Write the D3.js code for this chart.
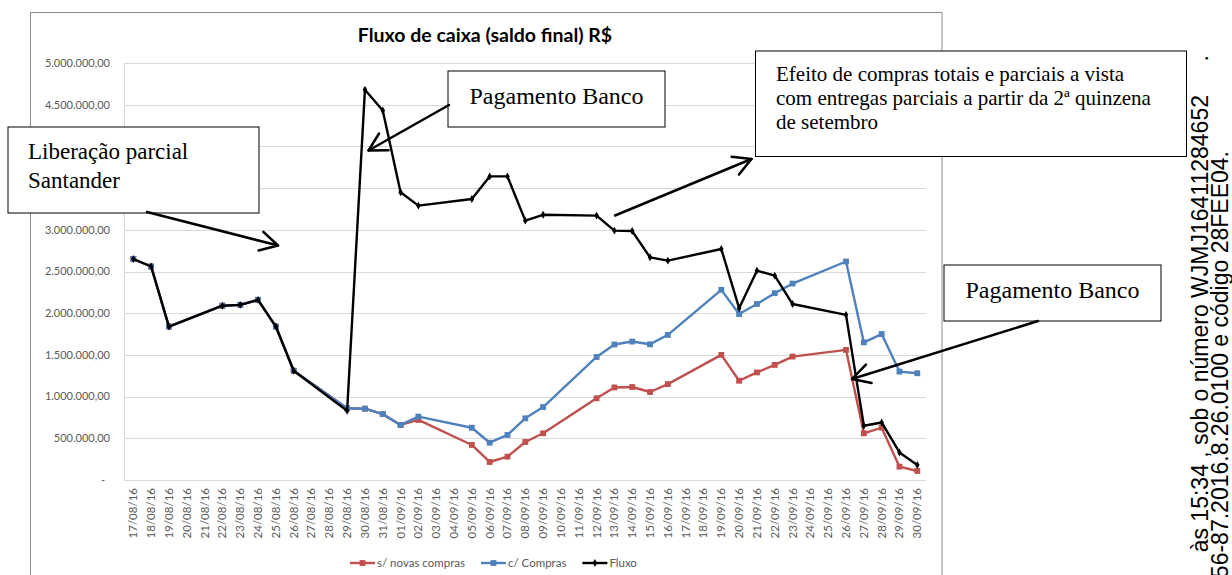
<!DOCTYPE html>
<html>
<head>
<meta charset="utf-8">
<script src="https://cdn.jsdelivr.net/npm/d3@7"></script>
<style>
  body { margin: 0; background: #fff; }
  svg { display: block; }
</style>
</head>
<body>
<div id="chart"></div>
<script>
var categories = [
  "17/08/16","18/08/16","19/08/16","20/08/16","21/08/16","22/08/16","23/08/16","24/08/16",
  "25/08/16","26/08/16","27/08/16","28/08/16","29/08/16","30/08/16","31/08/16",
  "01/09/16","02/09/16","03/09/16","04/09/16","05/09/16","06/09/16","07/09/16","08/09/16",
  "09/09/16","10/09/16","11/09/16","12/09/16","13/09/16","14/09/16","15/09/16","16/09/16",
  "17/09/16","18/09/16","19/09/16","20/09/16","21/09/16","22/09/16","23/09/16","24/09/16",
  "25/09/16","26/09/16","27/09/16","28/09/16","29/09/16","30/09/16"
];

// weekends have no value (null): the line just connects over them
var semNovasCompras = [
  2650000, 2560000, 1840000, null, null, 2090000, 2100000, 2160000,
  1840000, 1310000, null, null, 860000, 855000, 790000,
  660000, 720000, null, null, 420000, 216000, 280000, 456000,
  560000, null, null, 980000, 1110000, 1115000, 1055000, 1150000,
  null, null, 1500000, 1190000, 1290000, 1380000, 1480000, null,
  null, 1560000, 560000, 627000, 160000, 108000
];
var comCompras = [
  2650000, 2560000, 1840000, null, null, 2090000, 2100000, 2160000,
  1840000, 1310000, null, null, 860000, 855000, 790000,
  660000, 760000, null, null, 627000, 447000, 540000, 740000,
  875000, null, null, 1475000, 1625000, 1660000, 1627000, 1740000,
  null, null, 2280000, 1990000, 2110000, 2240000, 2355000, null,
  null, 2620000, 1650000, 1750000, 1300000, 1280000
];
var fluxo = [
  2650000, 2560000, 1840000, null, null, 2090000, 2100000, 2160000,
  1840000, 1310000, null, null, 830000, 4680000, 4430000,
  3450000, 3290000, null, null, 3370000, 3640000, 3640000, 3110000,
  3180000, null, null, 3170000, 2990000, 2985000, 2670000, 2630000,
  null, null, 2770000, 2060000, 2510000, 2450000, 2110000, null,
  null, 1980000, 650000, 690000, 330000, 180000
];

var seriesNames = ["s/ novas compras", "c/ Compras", "Fluxo"];
var yTickValues = [0, 500000, 1000000, 1500000, 2000000, 2500000, 3000000, 3500000, 4000000, 4500000, 5000000];
var chartTitle = "Fluxo de caixa (saldo final) R$";

// text boxes and arrows laid over the chart
var noteBoxes = [
  { x: 8, y: 127, w: 251, h: 86, lines: ["Liberação parcial", "Santander"], size: 23, tx: 28, ty: 159, lh: 28.5, anchor: "start" },
  { x: 448, y: 71, w: 217, h: 56, lines: ["Pagamento Banco"], size: 24, tx: 556.5, ty: 104, lh: 0, anchor: "middle" },
  { x: 755.5, y: 51, w: 431, h: 105.5, lines: ["Efeito de compras totais e parciais a vista", "com entregas parciais a partir da 2ª quinzena", "de setembro"], size: 21, tx: 776, ty: 81, lh: 24.2, anchor: "start" },
  { x: 944, y: 265, w: 217, h: 56, lines: ["Pagamento Banco"], size: 24, tx: 1052.5, ty: 298, lh: 0, anchor: "middle" }
];
var noteArrows = [
  { from: [147, 212], to: [278, 245.5] },
  { from: [449, 105], to: [368.5, 150.5] },
  { from: [615, 215.5], to: [751.5, 159] },
  { from: [1038, 321], to: [852, 379] }
];
var sideLines = [
  { text: "às 15:34 , sob o número WJMJ16411284652", x: 1208, y: 95 },
  { text: ".", x: 1208, y: 55 },
  { text: "756-87.2016.8.26.0100 e código 28FEE04.", x: 1228, y: 151 }
];

var width = 1232;
var height = 575;
var colors = ["#C0504D", "#4F81BD", "#000000"];
var labelFont = "Lato, 'Open Sans', sans-serif";
var serifFont = "'Liberation Serif', 'Times New Roman', serif";

var svg = d3.select("#chart").append("svg")
  .attr("width", width).attr("height", height);

// chart frame
svg.append("rect")
  .attr("x", 30.5).attr("y", 12.5)
  .attr("width", 911.5).attr("height", 600)
  .attr("fill", "#fff").attr("stroke", "#8c8c8c").attr("stroke-width", 1);

var plot = { left: 124.4, right: 926.2, top: 63, bottom: 480 };

var x = d3.scaleBand().domain(categories).range([plot.left, plot.right]).padding(0);
var y = d3.scaleLinear().domain([0, 5000000]).range([plot.bottom, plot.top]);
function cx(c) { return x(c) + x.bandwidth() / 2; }

var br = d3.formatLocale({ decimal: ",", thousands: ".", grouping: [3], currency: ["R$", ""] });
var fmt = br.format(",.2f");

// gridlines
svg.append("g").selectAll("line")
  .data(yTickValues.filter(function(d) { return d > 0; }))
  .enter().append("line")
  .attr("x1", plot.left).attr("x2", plot.right)
  .attr("y1", function(d) { return Math.round(y(d)) + 0.5; })
  .attr("y2", function(d) { return Math.round(y(d)) + 0.5; })
  .attr("stroke", "#d9d9d9").attr("stroke-width", 1.2);

// axis lines
svg.append("line")
  .attr("x1", plot.left).attr("x2", plot.right)
  .attr("y1", plot.bottom + 0.5).attr("y2", plot.bottom + 0.5)
  .attr("stroke", "#d9d9d9").attr("stroke-width", 1.2);
svg.append("line")
  .attr("x1", plot.left).attr("x2", plot.left)
  .attr("y1", plot.top).attr("y2", plot.bottom)
  .attr("stroke", "#d9d9d9").attr("stroke-width", 1.2);

// y labels
svg.append("g").selectAll("text")
  .data(yTickValues)
  .enter().append("text")
  .attr("x", function(d) { return d === 0 ? 105 : 110; })
  .attr("y", function(d) { return y(d); })
  .attr("dy", "0.35em")
  .attr("text-anchor", "end")
  .style("font-family", labelFont)
  .style("font-size", "11px")
  .style("fill", "#595959")
  .text(function(d) { return d === 0 ? "-" : fmt(d); });

// x labels
svg.append("g").selectAll("text")
  .data(categories)
  .enter().append("text")
  .attr("transform", function(d) { return "translate(" + (cx(d) + 4) + "," + 488 + ") rotate(-90)"; })
  .attr("text-anchor", "end")
  .style("font-family", labelFont)
  .style("font-size", "11.5px")
  .style("fill", "#595959")
  .text(function(d) { return d; });

// title
svg.append("text")
  .attr("x", 485).attr("y", 42)
  .attr("text-anchor", "middle")
  .style("font-family", labelFont)
  .style("font-weight", "bold")
  .style("font-size", "19.5px")
  .style("fill", "#000")
  .text(chartTitle);

// series
var allSeries = [semNovasCompras, comCompras, fluxo];
var lineGen = d3.line()
  .x(function(d) { return cx(d.cat); })
  .y(function(d) { return y(d.v); });

function markerPath(i) {
  var type = i === 2 ? d3.symbolDiamond : d3.symbolSquare;
  return d3.symbol().type(type).size(i === 2 ? 18 : 34)();
}

allSeries.forEach(function(vals, i) {
  var pts = categories.map(function(c, k) { return { cat: c, v: vals[k] }; })
    .filter(function(d) { return d.v !== null; });
  var g = svg.append("g");
  g.append("path")
    .datum(pts)
    .attr("d", lineGen)
    .attr("fill", "none")
    .attr("stroke", colors[i])
    .attr("stroke-width", 2.4)
    .attr("stroke-linejoin", "round");
  g.selectAll("path.m")
    .data(pts)
    .enter().append("path")
    .attr("class", "m")
    .attr("transform", function(d) { return "translate(" + cx(d.cat) + "," + y(d.v) + ")"; })
    .attr("d", markerPath(i))
    .attr("fill", colors[i]);
});

// legend
var legend = svg.append("g");
var lx = 350;
seriesNames.forEach(function(name, i) {
  legend.append("line")
    .attr("x1", lx).attr("x2", lx + 25)
    .attr("y1", 563).attr("y2", 563)
    .attr("stroke", colors[i]).attr("stroke-width", 2.4);
  legend.append("path")
    .attr("transform", "translate(" + (lx + 12.5) + "," + 563 + ")")
    .attr("d", markerPath(i))
    .attr("fill", colors[i]);
  var t = legend.append("text")
    .attr("x", lx + 27).attr("y", 563)
    .attr("dy", "0.35em")
    .style("font-family", labelFont)
    .style("font-size", "11.5px")
    .style("fill", "#595959")
    .text(name);
  lx += 27 + t.node().getComputedTextLength() + 16;
});

// side text from the page (rotated)
svg.append("g").selectAll("text")
  .data(sideLines)
  .enter().append("text")
  .attr("transform", function(d) { return "translate(" + d.x + "," + d.y + ") rotate(-90)"; })
  .attr("text-anchor", "end")
  .style("font-family", "'Liberation Sans', Arial, sans-serif")
  .style("font-size", "23px")
  .style("fill", "#000")
  .text(function(d) { return d.text; });

// annotation boxes
noteBoxes.forEach(function(b) {
  var g = svg.append("g");
  g.append("rect")
    .attr("x", b.x).attr("y", b.y).attr("width", b.w).attr("height", b.h)
    .attr("fill", "#fff").attr("stroke", "#000").attr("stroke-width", 1);
  b.lines.forEach(function(l, k) {
    g.append("text")
      .attr("x", b.tx).attr("y", b.ty + k * b.lh)
      .attr("text-anchor", b.anchor)
      .style("font-family", serifFont)
      .style("font-size", b.size + "px")
      .style("fill", "#000")
      .text(l);
  });
});

// arrows with open heads
noteArrows.forEach(function(a) {
  var dx = a.to[0] - a.from[0], dy = a.to[1] - a.from[1];
  var ang = Math.atan2(dy, dx);
  var len = 20, spread = 0.5;
  var g = svg.append("g").attr("stroke", "#000").attr("stroke-width", 2.5).attr("fill", "none")
    .attr("stroke-linecap", "round").attr("stroke-linejoin", "round");
  g.append("line")
    .attr("x1", a.from[0]).attr("y1", a.from[1])
    .attr("x2", a.to[0]).attr("y2", a.to[1]);
  g.append("polyline")
    .attr("points", [
      [a.to[0] - len * Math.cos(ang - spread), a.to[1] - len * Math.sin(ang - spread)],
      a.to,
      [a.to[0] - len * Math.cos(ang + spread), a.to[1] - len * Math.sin(ang + spread)]
    ].map(function(p) { return p.join(","); }).join(" "));
});
</script>
</body>
</html>
